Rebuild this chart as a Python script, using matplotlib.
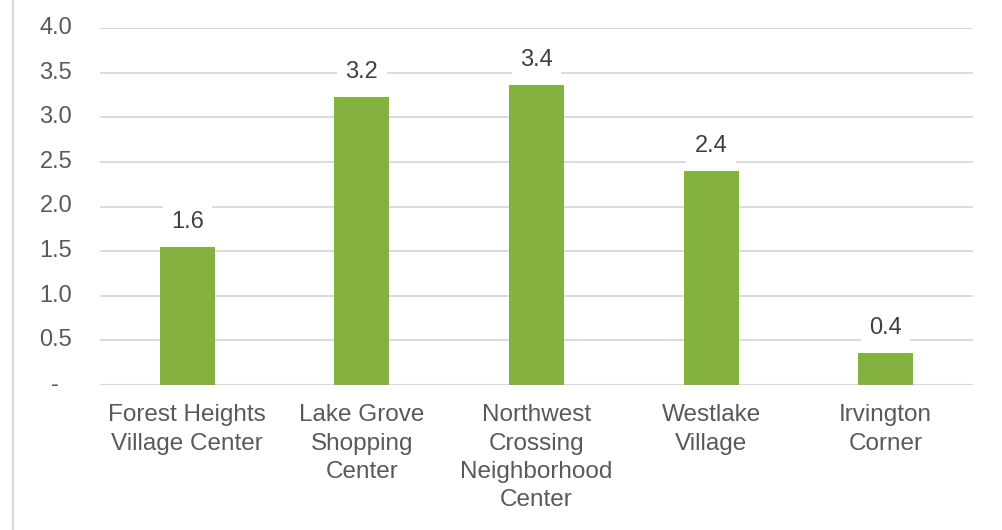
import matplotlib
matplotlib.use("Agg")
import matplotlib.pyplot as plt
from matplotlib.lines import Line2D
from matplotlib.transforms import offset_copy

plt.rcParams['font.family'] = ['Liberation Sans', 'DejaVu Sans']

categories = ["Forest Heights\nVillage Center", "Lake Grove\nShopping\nCenter",
              "Northwest\nCrossing\nNeighborhood\nCenter", "Westlake\nVillage",
              "Irvington\nCorner"]
values = [1.55, 3.23, 3.36, 2.40, 0.36]
labels = ["1.6", "3.2", "3.4", "2.4", "0.4"]
yticks = [0.0, 0.5, 1.0, 1.5, 2.0, 2.5, 3.0, 3.5, 4.0]
ytick_labels = ["-", "0.5", "1.0", "1.5", "2.0", "2.5", "3.0", "3.5", "4.0"]

W, H = 1003, 530
fig = plt.figure(figsize=(W / 100, H / 100), dpi=100)
ax = fig.add_axes([100 / W, 145 / H, 873 / W, 357 / H])

x = list(range(len(categories)))
ax.bar(x, values, width=0.315, color="#84B140", zorder=3)
ax.set_xlim(-0.5, len(categories) - 0.5)
ax.set_ylim(0, 4.0)

ax.set_yticks(yticks)
ax.set_yticklabels([])
ax.grid(axis="y", color="#D9D9D9", linewidth=1.3, zorder=0)
for s in ax.spines.values():
    s.set_visible(False)
ax.tick_params(axis="both", length=0)
ax.axhline(0, color="#D9D9D9", linewidth=1.5, zorder=2)

# y tick labels (manual so that "-" can be offset like Excel accounting format)
ytr = ax.get_yaxis_transform()
for yv, lab in zip(yticks, ytick_labels):
    tr = offset_copy(ytr, fig=fig, x=(-30 if lab == "-" else -20), y=0, units="points")
    ax.text(0, yv, lab, transform=tr, ha="right", va="center",
            fontsize=17, color="#595959")

ax.set_xticks(x)
ax.set_xticklabels(categories, fontsize=17.5, color="#595959", linespacing=1.36)
ax.tick_params(axis="x", pad=14)

for xi, v, lab in zip(x, values, labels):
    ax.annotate(lab, (xi, v), xytext=(0, 18), textcoords="offset points",
                ha="center", va="center", fontsize=17, color="#404040",
                bbox=dict(boxstyle="square,pad=0.35", fc="white", ec="none"),
                zorder=4)

fig.add_artist(Line2D([13 / W, 13 / W], [0, 1], transform=fig.transFigure,
                      color="#D9D9D9", linewidth=1.5))

fig.savefig("out.png", dpi=100)
